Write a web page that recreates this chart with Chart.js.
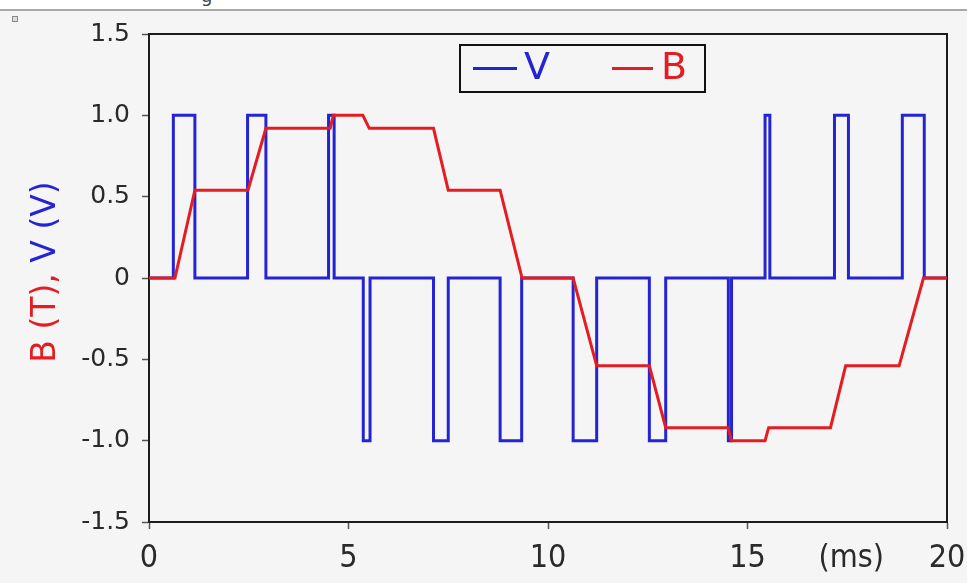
<!DOCTYPE html>
<html>
<head>
<meta charset="utf-8">
<title>B and V waveform</title>
<script src="https://cdn.jsdelivr.net/npm/chart.js@4.4.1/dist/chart.umd.min.js"></script>
<style>
    html, body { margin: 0; padding: 0; }
    body { width: 967px; height: 583px; background: #f5f5f5; position: relative; overflow: hidden; font-family: "DejaVu Sans", sans-serif; }
    #topstrip { position: absolute; left: 0; top: 0; width: 967px; height: 9px; background: #fff; border-bottom: 2px solid #a8a8a8; }
    #topglyph { position: absolute; left: 201px; top: -15px; font-size: 18px; color: #444; }
    #icon { position: absolute; left: 12px; top: 16px; width: 4px; height: 4px; border: 1px solid #888; background: #ddd; }
    #chart { position: absolute; left: 0; top: 0; }
</style>
</head>
<body>
<div id="topstrip"></div>
<div id="topglyph">g</div>
<div id="icon"></div>
<canvas id="chart" width="967" height="583"></canvas>
<script>
// V (voltage) : moment of each switching edge (ms) and the level after it
const vTimes  = [0, 0.61, 1.15, 2.47, 2.93, 4.50, 4.64, 5.37, 5.54, 7.13, 7.50, 8.80, 9.34,
                 10.63, 11.22, 12.54, 12.95, 14.52, 14.60, 15.44, 15.56, 17.18, 17.53, 18.88, 19.43, 20];
const vLevels = [0, 1, 0, 1, 0, 1, 0, -1, 0, -1, 0, -1, 0,
                 -1, 0, -1, 0, -1, 0, 1, 0, 1, 0, 1, 0, 0];

// B (flux density) : corner points of the piecewise-linear curve
const bTimes  = [0, 0.65, 1.15, 2.48, 2.93, 4.54, 4.62, 5.36, 5.52, 7.13, 7.50, 8.80, 9.35,
                 10.63, 11.22, 12.54, 12.95, 14.51, 14.60, 15.44, 15.53, 17.08, 17.46, 18.80, 19.41, 20];
const bValues = [0, 0, 0.54, 0.54, 0.92, 0.92, 1.0, 1.0, 0.92, 0.92, 0.54, 0.54, 0,
                 0, -0.54, -0.54, -0.92, -0.92, -1.0, -1.0, -0.92, -0.92, -0.54, -0.54, 0, 0];

// axis ticks
const xTickValues = [0, 5, 10, 15, 17.6, 20];
const xTickLabels = ['0', '5', '10', '15', '(ms)', '20'];
const yTickValues = [-1.5, -1.0, -0.5, 0, 0.5, 1.0, 1.5];

const BLUE = '#2424d2';
const RED = '#e41d23';
const UNIT_TICK = 17.6; // "(ms)" sits among the tick labels, without a mark

// frame around the plot area (top / right sides too)
const framePlugin = {
    id: 'frame',
    beforeDatasetsDraw(chart) {
        const a = chart.chartArea;
        const ctx = chart.ctx;
        ctx.save();
        ctx.strokeStyle = '#1c1c1c';
        ctx.lineWidth = 2;
        ctx.strokeRect(a.left, a.top, a.right - a.left, a.bottom - a.top);
        ctx.restore();
    }
};

// y axis title in two colours: "B (T)," red and "V (V)" blue
const yTitlePlugin = {
    id: 'yTitle',
    afterDraw(chart) {
        const ctx = chart.ctx;
        const a = chart.chartArea;
        const redPart = 'B (T), ';
        const bluePart = 'V (V)';
        ctx.save();
        ctx.font = '33px "DejaVu Sans", sans-serif';
        ctx.textBaseline = 'middle';
        ctx.textAlign = 'left';
        const w1 = ctx.measureText(redPart).width;
        const w2 = ctx.measureText(bluePart).width;
        ctx.translate(46, (a.top + a.bottom) / 2 - 6);
        ctx.rotate(-Math.PI / 2);
        const start = -(w1 + w2) / 2;
        ctx.fillStyle = RED;
        ctx.fillText(redPart, start, 0);
        ctx.fillStyle = BLUE;
        ctx.fillText(bluePart, start + w1, 0);
        ctx.restore();
    }
};

// boxed legend inside the plot
const legendPlugin = {
    id: 'boxLegend',
    afterDraw(chart) {
        const ctx = chart.ctx;
        const a = chart.chartArea;
        const left = a.left + 311, top = a.top + 11, w = 245, h = 47;
        const midY = top + h / 2;
        ctx.save();
        ctx.strokeStyle = '#111';
        ctx.lineWidth = 2;
        ctx.strokeRect(left, top, w, h);
        ctx.font = '38px "DejaVu Sans", sans-serif';
        ctx.textBaseline = 'middle';
        ctx.textAlign = 'left';
        ctx.lineWidth = 3;
        // V
        ctx.strokeStyle = BLUE;
        ctx.beginPath();
        ctx.moveTo(left + 13, midY);
        ctx.lineTo(left + 57, midY);
        ctx.stroke();
        ctx.fillStyle = BLUE;
        ctx.fillText('V', left + 64, midY + 1);
        // B
        ctx.strokeStyle = RED;
        ctx.beginPath();
        ctx.moveTo(left + 152, midY);
        ctx.lineTo(left + 193, midY);
        ctx.stroke();
        ctx.fillStyle = RED;
        ctx.fillText('B', left + 201, midY + 1);
        ctx.restore();
    }
};

const bData = bTimes.map((t, i) => ({ x: t, y: bValues[i] }));
const vData = vTimes.map((t, i) => ({ x: t, y: vLevels[i] }));

new Chart(document.getElementById('chart').getContext('2d'), {
    type: 'line',
    data: {
        datasets: [
            {
                label: 'B',
                data: bData,
                borderColor: RED,
                borderWidth: 3,
                pointRadius: 0,
                tension: 0
            },
            {
                label: 'V',
                data: vData,
                borderColor: BLUE,
                borderWidth: 3,
                pointRadius: 0,
                stepped: 'before'
            }
        ]
    },
    options: {
        responsive: false,
        animation: false,
        devicePixelRatio: 1,
        layout: {
            padding: { left: 0, right: 20, top: 34, bottom: 0 }
        },
        plugins: {
            legend: { display: false },
            tooltip: { enabled: false }
        },
        scales: {
            x: {
                type: 'linear',
                min: 0,
                max: 20,
                afterBuildTicks: function(scale) {
                    scale.ticks = xTickValues.map(v => ({ value: v }));
                },
                afterFit: function(scale) {
                    scale.height = 61;
                    scale.paddingLeft = 0;
                    scale.paddingRight = 0;
                },
                ticks: {
                    autoSkip: false,
                    maxRotation: 0,
                    padding: 10,
                    color: '#2a2a2a',
                    font: { family: '"Liberation Sans Narrow", "DejaVu Sans Condensed", "DejaVu Sans", sans-serif', size: 32 },
                    callback: function(value, index) {
                        return xTickLabels[index];
                    }
                },
                grid: {
                    drawOnChartArea: false,
                    drawTicks: true,
                    tickLength: 7,
                    tickWidth: 1.5,
                    tickColor: function(ctx) {
                        return ctx.tick && ctx.tick.value === UNIT_TICK ? 'rgba(0,0,0,0)' : '#555';
                    }
                },
                border: { display: true, color: '#1c1c1c', width: 2 }
            },
            y: {
                min: -1.5,
                max: 1.5,
                afterBuildTicks: function(scale) {
                    scale.ticks = yTickValues.map(v => ({ value: v }));
                },
                afterFit: function(scale) {
                    scale.width = 149;
                    scale.paddingTop = 0;
                    scale.paddingBottom = 0;
                },
                ticks: {
                    padding: 12,
                    color: '#2a2a2a',
                    font: { family: '"DejaVu Sans", sans-serif', size: 25 },
                    callback: function(value) {
                        return value === 0 ? '0' : value.toFixed(1);
                    }
                },
                grid: {
                    drawOnChartArea: false,
                    drawTicks: true,
                    tickLength: 7,
                    tickWidth: 1.5,
                    tickColor: '#555'
                },
                border: { display: true, color: '#1c1c1c', width: 2 }
            }
        }
    },
    plugins: [framePlugin, yTitlePlugin, legendPlugin]
});
</script>
</body>
</html>
